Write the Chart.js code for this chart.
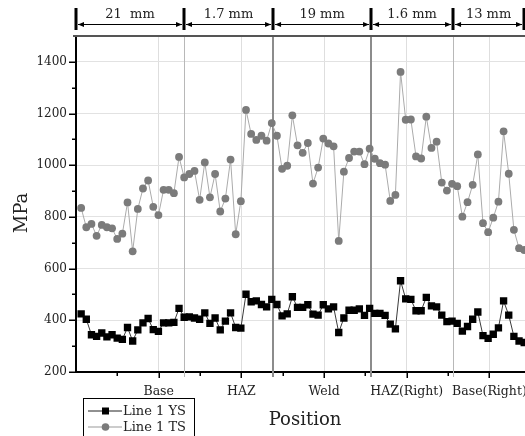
<!DOCTYPE html>
<html><head><meta charset="utf-8">
<script src="https://cdn.jsdelivr.net/npm/chart.js@4/dist/chart.umd.min.js"></script>
<style>
html,body{margin:0;padding:0;overflow:hidden;background:#fff;width:525px;height:436px}
#wrap{position:absolute;left:0;top:0;width:536px;height:436px}
</style>
</head><body><div id="wrap"><canvas id="c" width="536" height="436"></canvas></div>
<script>
// ---- data ----
const categories = ['Base', 'HAZ', 'Weld', 'HAZ(Right)', 'Base(Right)'];
const ysValues = [425,404,344,338,351,336,344,331,326,372,
  320,363,390,407,364,357,390,390,392,446,
  412,413,409,404,429,388,409,363,397,429,
  372,370,501,472,475,461,452,481,461,417,
  425,491,450,450,460,424,420,460,444,452,
  353,409,439,439,444,419,446,427,427,419,
  385,367,553,483,481,437,437,489,456,452,
  420,395,397,388,358,376,404,432,341,330,
  346,371,475,420,338,320,314];
const tsValues = [835,760,773,727,769,760,756,715,735,856,
  667,831,910,941,839,807,905,905,892,1032,
  953,966,978,866,1011,876,966,821,871,1022,
  733,861,1214,1121,1098,1114,1095,1163,1114,986,
  998,1193,1077,1048,1086,929,991,1103,1084,1073,
  707,975,1028,1053,1053,1004,1064,1025,1008,1002,
  862,885,1361,1176,1177,1034,1026,1188,1067,1091,
  933,902,928,919,801,857,924,1042,776,741,
  797,859,1131,967,750,679,672];
const sampleStep = 0.0623;              // spacing of measurement points along Position axis
const zoneEdges = [0, 1.306, 2.383, 3.568, 4.56, 5.418];
const zoneWidths = ['21  mm', '1.7 mm', '19 mm', '1.6 mm', '13 mm'];
const seriesNames = ['Line 1 YS', 'Line 1 TS'];

const positions = ysValues.map((_, i) => (i + 1) * sampleStep);
const FONT = 'DejaVu Serif';

const decor = {
  id: 'decor',
  beforeDatasetsDraw(chart) {
    const {ctx, chartArea: a, scales: {x}} = chart;
    const cols = ['#b8b8b8', '#8c8c8c', '#8c8c8c', '#b8b8b8'];
    const lw = [1, 2, 2, 1];
    ctx.save();
    for (let i = 1; i <= 4; i++) {
      const px = Math.round(x.getPixelForValue(zoneEdges[i])) + (lw[i-1] === 1 ? 0.5 : 0);
      ctx.strokeStyle = cols[i-1]; ctx.lineWidth = lw[i-1];
      ctx.beginPath(); ctx.moveTo(px, a.top); ctx.lineTo(px, a.bottom + 5); ctx.stroke();
    }
    ctx.restore();
  },
  afterDraw(chart) {
    const {ctx, chartArea: a, scales: {x, y}} = chart;
    ctx.save();
    // top frame
    ctx.strokeStyle = '#555'; ctx.lineWidth = 2;
    ctx.beginPath(); ctx.moveTo(a.left - 3, a.top); ctx.lineTo(a.right + 5, a.top); ctx.stroke();
    // y ticks (major + minor)
    ctx.strokeStyle = '#000'; ctx.lineWidth = 1.5;
    for (let v = 200; v <= 1400; v += 100) {
      const py = Math.round(y.getPixelForValue(v)) + 0.25;
      const len = v % 200 === 0 ? 7 : 4;
      ctx.beginPath(); ctx.moveTo(a.left - len, py); ctx.lineTo(a.left, py); ctx.stroke();
    }
    // x ticks
    for (let v = 0.5; v <= 5.5; v += 0.5) {
      const px = Math.round(x.getPixelForValue(v)) + 0.25;
      const len = Number.isInteger(v) ? 6 : 4;
      ctx.beginPath(); ctx.moveTo(px, a.bottom); ctx.lineTo(px, a.bottom + len); ctx.stroke();
    }
    // dimension annotation
    ctx.fillStyle = '#000';
    const edgesPx = zoneEdges.map(e => x.getPixelForValue(e));
    edgesPx.forEach(px => ctx.fillRect(Math.round(px) - 1.5, 8, 3, 22));
    ctx.lineWidth = 1;
    ctx.font = '13px "' + FONT + '"';
    ctx.textAlign = 'center'; ctx.textBaseline = 'middle';
    for (let i = 0; i < 5; i++) {
      const x0 = edgesPx[i] + 2, x1 = edgesPx[i+1] - 2, ya = 24.5;
      ctx.beginPath(); ctx.moveTo(x0, ya); ctx.lineTo(x1, ya); ctx.stroke();
      ctx.beginPath(); ctx.moveTo(x0, ya); ctx.lineTo(x0 + 6, ya - 2.5); ctx.lineTo(x0 + 6, ya + 2.5); ctx.closePath(); ctx.fill();
      ctx.beginPath(); ctx.moveTo(x1, ya); ctx.lineTo(x1 - 6, ya - 2.5); ctx.lineTo(x1 - 6, ya + 2.5); ctx.closePath(); ctx.fill();
      ctx.fillStyle = '#222';
      ctx.fillText(zoneWidths[i], (edgesPx[i] + edgesPx[i+1]) / 2, 15);
      ctx.fillStyle = '#000';
    }
    // axis titles
    ctx.fillStyle = '#222';
    ctx.font = '18px "' + FONT + '"';
    ctx.fillText('Position', 305, 420);
    ctx.save(); ctx.translate(22, 213); ctx.rotate(-Math.PI / 2); ctx.fillText('MPa', 0, 0); ctx.restore();
    // legend
    ctx.fillStyle = '#fff'; ctx.fillRect(83, 398, 111, 60);
    ctx.strokeStyle = '#000'; ctx.lineWidth = 1;
    ctx.strokeRect(83.5, 398.5, 111, 60);
    ctx.font = '13px "' + FONT + '"'; ctx.textAlign = 'left';
    let ly = 411;
    ctx.strokeStyle = '#222'; ctx.beginPath(); ctx.moveTo(88, ly); ctx.lineTo(122, ly); ctx.stroke();
    ctx.fillStyle = '#000'; ctx.fillRect(102, ly - 3.5, 7, 7);
    ctx.fillStyle = '#222'; ctx.fillText(seriesNames[0], 123, ly + 1);
    ly = 427;
    ctx.strokeStyle = '#999'; ctx.beginPath(); ctx.moveTo(88, ly); ctx.lineTo(122, ly); ctx.stroke();
    ctx.fillStyle = '#7b7b7b'; ctx.beginPath(); ctx.arc(105.5, ly, 3.8, 0, Math.PI * 2); ctx.fill();
    ctx.fillStyle = '#222'; ctx.fillText(seriesNames[1], 123, ly + 1);
    ctx.restore();
  }
};

new Chart(document.getElementById('c'), {
  type: 'scatter',
  data: {
    datasets: [
      {
        label: seriesNames[0],
        data: ysValues.map((v, i) => ({x: positions[i], y: v})),
        showLine: true, borderColor: '#3a3a3a', borderWidth: 1,
        pointStyle: 'rect', pointRadius: 5.2, pointHoverRadius: 5.2,
        pointBackgroundColor: '#000', pointBorderColor: '#000', pointBorderWidth: 0
      },
      {
        label: seriesNames[1],
        data: tsValues.map((v, i) => ({x: positions[i], y: v})),
        showLine: true, borderColor: '#ababab', borderWidth: 1,
        pointStyle: 'circle', pointRadius: 3.9, pointHoverRadius: 3.9,
        pointBackgroundColor: '#7b7b7b', pointBorderColor: '#7b7b7b', pointBorderWidth: 0
      }
    ]
  },
  options: {
    responsive: false, animation: false, devicePixelRatio: 1,
    layout: {padding: {top: 36, left: 0, right: 0, bottom: 0}},
    plugins: {legend: {display: false}, tooltip: {enabled: false}},
    scales: {
      x: {
        type: 'linear', min: 0, max: 5.5,
        afterFit: s => { s.height = 64; s.paddingLeft = 0; s.paddingRight = 0; },
        border: {color: '#000', width: 2},
        grid: {drawTicks: false, lineWidth: 1,
          color: c => (c.tick && Number.isInteger(c.tick.value) && c.tick.value > 0) ? '#dedede' : 'rgba(0,0,0,0)'},
        ticks: {stepSize: 0.5, autoSkip: false, maxRotation: 0, padding: 12, color: '#222',
          font: {family: FONT, size: 12.5},
          callback: v => (Number.isInteger(v) && v >= 1 && v <= 5) ? categories[v - 1] : ''}
      },
      y: {
        min: 200, max: 1500,
        afterFit: s => { s.width = 76; s.paddingTop = 0; s.paddingBottom = 0; },
        border: {color: '#000', width: 2},
        grid: {drawTicks: false, lineWidth: 1,
          color: c => (c.tick && (c.tick.value === 200 || c.tick.value === 1500)) ? 'rgba(0,0,0,0)' : '#e2e2e2'},
        ticks: {stepSize: 200, padding: 9, color: '#222', font: {family: FONT, size: 12},
          callback: v => v === 1500 ? '' : v}
      }
    }
  },
  plugins: [decor]
});
</script></body></html>
